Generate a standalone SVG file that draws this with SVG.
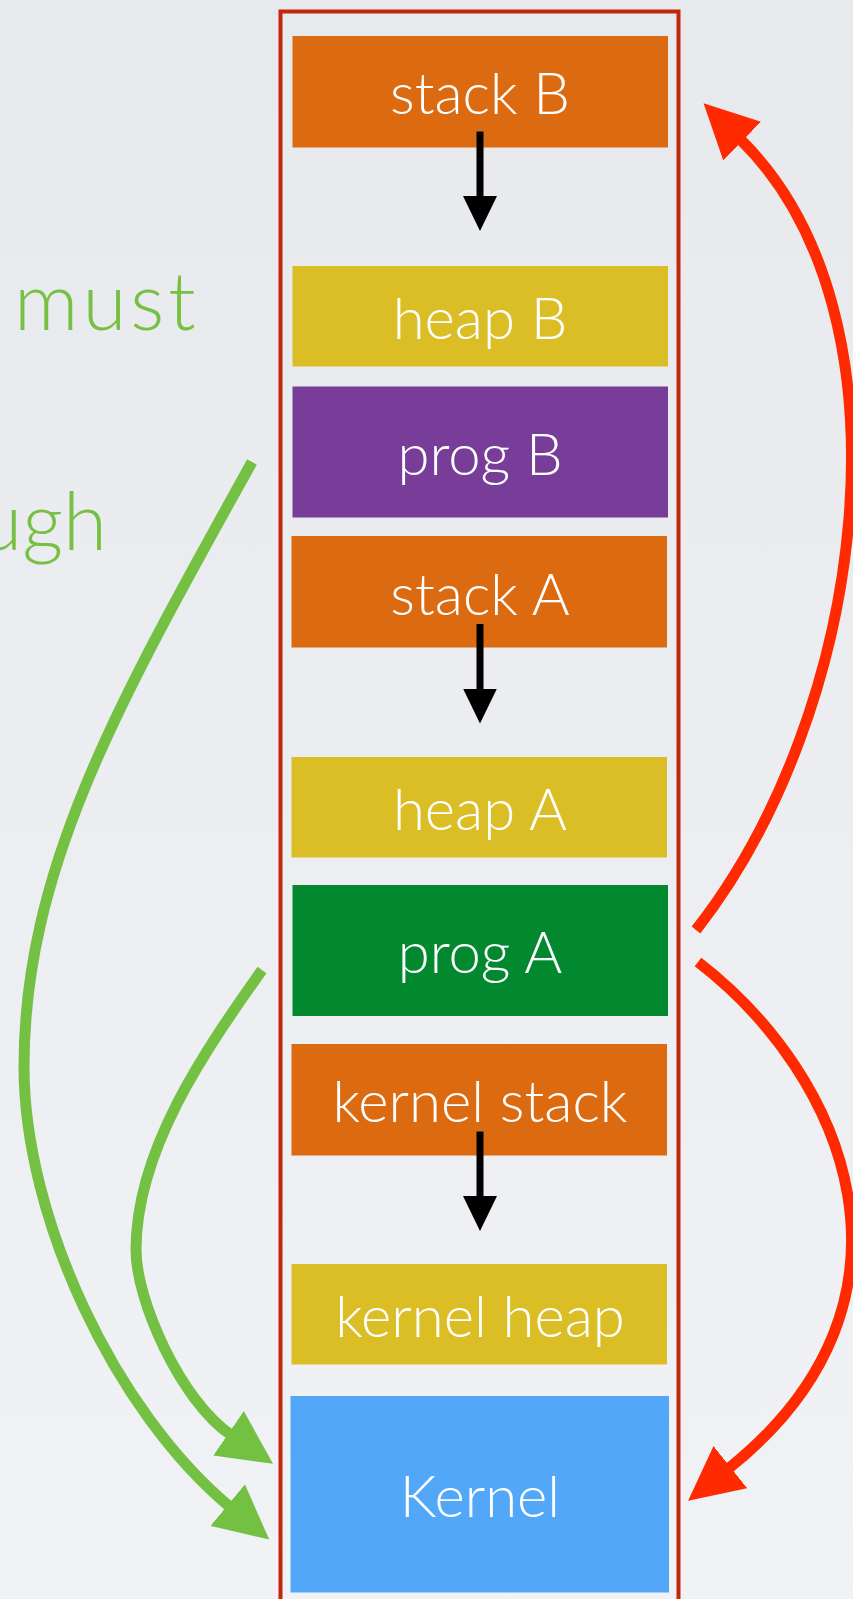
<svg xmlns="http://www.w3.org/2000/svg" width="853" height="1599" viewBox="0 0 853 1599">
  <defs>
    <linearGradient id="bg" x1="0" y1="0" x2="0" y2="1">
      <stop offset="0" stop-color="#e7e9ed"/>
      <stop offset="1" stop-color="#f1f2f5"/>
    </linearGradient>
    <marker id="head-black" markerUnits="userSpaceOnUse" markerWidth="36" markerHeight="34" refX="1" refY="17" orient="auto">
      <path d="M0,0 L35,17 L0,34 Z" fill="#000"/>
    </marker>
    <marker id="head-green" markerUnits="userSpaceOnUse" markerWidth="56" markerHeight="54" refX="3" refY="27" orient="auto">
      <path d="M0,0 L54,27 L0,54 Z" fill="#74c043"/>
    </marker>
    <marker id="head-red" markerUnits="userSpaceOnUse" markerWidth="56" markerHeight="54" refX="3" refY="27" orient="auto">
      <path d="M0,0 L54,27 L0,54 Z" fill="#ff2a00"/>
    </marker>
    <style>
      .label { font-family: Lato, "Liberation Sans", sans-serif; font-weight: 300; font-size: 58px; fill: #ffffff; text-anchor: middle; }
      .side { font-family: Lato, "Liberation Sans", sans-serif; font-weight: 300; font-size: 80px; fill: #76c043; }
      .stack { fill: #dc6a10; }
      .heap { fill: #dbbe26; }
      .grow { stroke: #000; stroke-width: 7; fill: none; marker-end: url(#head-black); }
      .green { stroke: #74c043; stroke-width: 11; fill: none; marker-end: url(#head-green); }
      .red { stroke: #ff2a00; stroke-width: 11; fill: none; marker-end: url(#head-red); }
    </style>
  </defs>

  <rect x="0" y="0" width="853" height="1599" fill="url(#bg)"/>

  <!-- caption words on the left edge -->
  <g id="caption">
    <text class="side" x="14" y="330" letter-spacing="4">must</text>
    <text class="side" x="107" y="550" text-anchor="end">ugh</text>
  </g>

  <!-- address space outline -->
  <g id="address-space">
    <rect x="280.5" y="11.5" width="398" height="1620" fill="none" stroke="#c4260c" stroke-width="4"/>
  </g>

  <g id="stack-b">
    <rect class="stack" x="292.5" y="36" width="375.5" height="111.5"/>
    <text class="label" x="480" y="114">stack B</text>
  </g>
  <g id="heap-b">
    <rect class="heap" x="292.5" y="266" width="375.5" height="100.5"/>
    <text class="label" x="480" y="339">heap B</text>
  </g>
  <g id="prog-b">
    <rect x="292.5" y="386.5" width="375.5" height="131" fill="#773d98"/>
    <text class="label" x="480" y="475">prog B</text>
  </g>
  <g id="stack-a">
    <rect class="stack" x="291.5" y="536" width="375.5" height="111.5"/>
    <text class="label" x="480" y="615">stack A</text>
  </g>
  <g id="heap-a">
    <rect class="heap" x="291.5" y="757" width="375.5" height="100.5"/>
    <text class="label" x="480" y="830">heap A</text>
  </g>
  <g id="prog-a">
    <rect x="292.5" y="885" width="375.5" height="131" fill="#02882e"/>
    <text class="label" x="480" y="973">prog A</text>
  </g>
  <g id="kernel-stack">
    <rect class="stack" x="291.5" y="1044" width="375.5" height="111.5"/>
    <text class="label" x="480" y="1122">kernel stack</text>
  </g>
  <g id="kernel-heap">
    <rect class="heap" x="291.5" y="1264" width="375.5" height="100.5"/>
    <text class="label" x="480" y="1337">kernel heap</text>
  </g>
  <g id="kernel">
    <rect x="290.5" y="1396" width="378.5" height="196.5" fill="#52a7f8"/>
    <text class="label" x="480" y="1517">Kernel</text>
  </g>

  <g id="connectors">
    <!-- growth direction of each stack -->
    <line class="grow" x1="480" y1="131.5" x2="480" y2="197"/>
    <line class="grow" x1="480" y1="624" x2="480" y2="689.5"/>
    <line class="grow" x1="480" y1="1131.5" x2="480" y2="1197"/>
    <!-- calls into the kernel -->
    <path class="green" d="M252,462 C120,700 24,867 24,1067 C24,1217 114.5,1411 230,1507"/>
    <path class="green" d="M262,970 C204,1052 136,1150 136,1250 C136,1300 180,1400 231,1435"/>
    <!-- switches between programs and the kernel -->
    <path class="red" d="M696,930 C865,715 920,315 740,139"/>
    <path class="red" d="M698,962 C845,1075 940,1300 728,1469"/>
  </g>
</svg>
